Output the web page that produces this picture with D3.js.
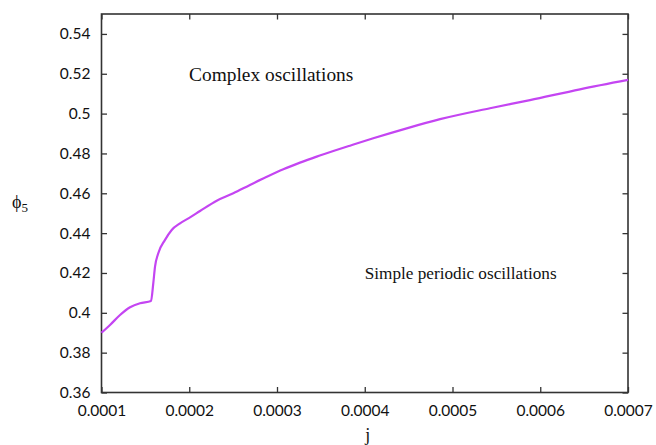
<!DOCTYPE html>
<html>
<head>
<meta charset="utf-8">
<script src="https://cdn.jsdelivr.net/npm/d3@7"></script>
<style>
  html, body { margin: 0; padding: 0; background: #fff; }
  svg { display: block; }
</style>
</head>
<body>
<svg id="chart" width="656" height="445"></svg>
<script>
// ---- data ----
const jValues = [0.0001, 0.0001097, 0.0001211, 0.0001325, 0.0001439, 0.0001564,
  0.000159, 0.000161, 0.0001647, 0.0001724, 0.00018, 0.0001895, 0.0002009, 0.0002123,
  0.0002313, 0.0002502, 0.0002692, 0.0002883, 0.0003072, 0.0003262, 0.0003452,
  0.0003642, 0.0003832, 0.0004097, 0.0004478, 0.0004858, 0.0005427, 0.0005883,
  0.0006453, 0.0007];
const phiValues = [0.3900, 0.3939, 0.3989, 0.4028, 0.4048, 0.4059,
  0.4148, 0.4232, 0.4299, 0.4366, 0.4416, 0.4449, 0.4479, 0.4511,
  0.4563, 0.4600, 0.4642, 0.4683, 0.4721, 0.4754, 0.4784,
  0.4812, 0.4839, 0.4876, 0.4926, 0.4972, 0.5027, 0.5068,
  0.5122, 0.5169];
const xTicks = [0.0001, 0.0002, 0.0003, 0.0004, 0.0005, 0.0006, 0.0007];
const xTickLabels = ["0.0001", "0.0002", "0.0003", "0.0004", "0.0005", "0.0006", "0.0007"];
const yTicks = [0.36, 0.38, 0.40, 0.42, 0.44, 0.46, 0.48, 0.50, 0.52, 0.54];
const yTickLabels = ["0.36", "0.38", "0.4", "0.42", "0.44", "0.46", "0.48", "0.5", "0.52", "0.54"];
const annotationTexts = ["Complex oscillations", "Simple periodic oscillations"];
const annotationJ = [0.0001998, 0.0004];
const annotationPhi = [0.5163, 0.4170];

// ---- layout ----
const L = 101.5, R = 628, T = 14, B = 392.5;
const svg = d3.select("#chart");
const x = d3.scaleLinear().domain([0.0001, 0.0007]).range([L, R]);
const y = d3.scaleLinear().domain([0.36, 0.55]).range([B, T]);

const tickFont = "Lato, 'Open Sans', sans-serif";
const axisColor = "#333";
const tickLen = 5.5;
const annFontSizes = [19.4, 17.2];

function styleAxis(g) {
  g.select(".domain").remove();
  g.selectAll(".tick line").attr("stroke", axisColor).attr("stroke-width", 1.3);
  g.selectAll(".tick text").attr("fill", "#111").attr("font-family", tickFont).attr("font-size", 15.5);
}

// bottom axis (ticks inward)
svg.append("g").attr("transform", `translate(0,${B})`)
  .call(d3.axisBottom(x).tickValues(xTicks).tickSize(-tickLen).tickPadding(12)
    .tickFormat((d, i) => xTickLabels[i]))
  .call(styleAxis);
// top axis (mirror ticks, no labels)
svg.append("g").attr("transform", `translate(0,${T})`)
  .call(d3.axisTop(x).tickValues(xTicks).tickSize(-tickLen).tickFormat(""))
  .call(styleAxis);
// left axis
svg.append("g").attr("transform", `translate(${L},0)`)
  .call(d3.axisLeft(y).tickValues(yTicks).tickSize(-tickLen).tickPadding(11)
    .tickFormat((d, i) => yTickLabels[i]))
  .call(styleAxis);
// right axis (mirror)
svg.append("g").attr("transform", `translate(${R},0)`)
  .call(d3.axisRight(y).tickValues(yTicks).tickSize(-tickLen).tickFormat(""))
  .call(styleAxis);

// frame
svg.append("rect").attr("x", L).attr("y", T).attr("width", R - L).attr("height", B - T)
  .attr("fill", "none").attr("stroke", axisColor).attr("stroke-width", 1.6);

// curve
const pts = jValues.map((j, i) => [j, phiValues[i]]);
svg.append("path").datum(pts)
  .attr("fill", "none")
  .attr("stroke", "#c445f2")
  .attr("stroke-width", 2.2)
  .attr("d", d3.line().x(d => x(d[0])).y(d => y(d[1])).curve(d3.curveMonotoneX));

// annotations
svg.selectAll("text.ann").data(annotationTexts).enter().append("text")
  .attr("class", "ann")
  .attr("x", (d, i) => x(annotationJ[i])).attr("y", (d, i) => y(annotationPhi[i]))
  .attr("font-family", "'Liberation Serif', 'Times New Roman', serif")
  .attr("font-size", (d, i) => annFontSizes[i])
  .attr("fill", "#111")
  .text(d => d);

// axis titles
svg.append("text").attr("x", (L + R) / 2 + 3).attr("y", 441)
  .attr("text-anchor", "middle")
  .attr("font-family", "'Liberation Serif', serif").attr("font-size", 18).attr("fill", "#111")
  .text("j");
const yt = svg.append("text").attr("x", 12).attr("y", 208)
  .attr("font-family", "'Liberation Serif', serif").attr("font-size", 18).attr("fill", "#111");
yt.append("tspan").text("ϕ");
yt.append("tspan").attr("font-size", 13).attr("dy", 4).text("5");
</script>
</body>
</html>
